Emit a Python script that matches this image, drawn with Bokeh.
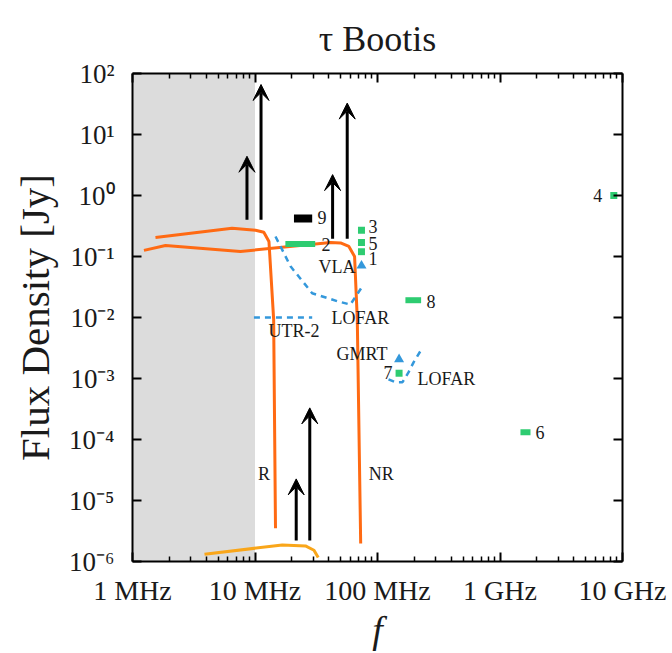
import numpy as np
from bokeh.plotting import figure
from bokeh.models import (LogAxis, BoxAnnotation, Arrow, VeeHead, ColumnDataSource,
                          CustomJSTickFormatter, FixedTicker)
from bokeh.core.properties import value
from bokeh.embed import file_html
from bokeh.resources import INLINE

# ---------------- data (frequency in MHz, flux density in Jy) ----------------
x_ticks = [1, 10, 100, 1000, 10000]
x_tick_labels = ["1 MHz", "10 MHz", "100 MHz", "1 GHz", "10 GHz"]
y_ticks = [1e-6, 1e-5, 1e-4, 1e-3, 1e-2, 1e-1, 1e0, 1e1, 1e2]
y_tick_labels = ["10⁻⁶", "10⁻⁵", "10⁻⁴", "10⁻³", "10⁻²", "10⁻¹", "10⁰", "10¹", "10²"]

shade_f = [1, 10]

r_f = [1.54, 6.5, 10.1, 11.8, 13.0, 14.2, 14.7]
r_s = [0.205, 0.29, 0.27, 0.25, 0.176, 0.0093, 3.5e-6]
nr_f = [1.24, 1.86, 7.6, 41.5, 49.9, 58.4, 65.0, 68.4, 72.9]
nr_s = [0.126, 0.151, 0.121, 0.17, 0.167, 0.146, 0.10, 0.0093, 1.97e-6]
low_f = [3.87, 16.7, 25.8, 30.3, 32.8]
low_s = [1.32e-6, 1.86e-6, 1.8e-6, 1.53e-6, 1.16e-6]

utr2_f = [9.8, 29.3]
utr2_s = [0.01, 0.01]
lba_f = [14.7, 19.5, 29.3, 47.0, 60.0, 75.0]
lba_s = [0.213, 0.069, 0.025, 0.0185, 0.0163, 0.032]
hba_f = [123, 140, 160, 179, 197, 233]
hba_s = [0.00097, 0.00087, 0.00087, 0.00126, 0.00184, 0.0032]

tri_f = [74, 150]
tri_s = [0.0707, 0.00206]

arrow_f = [8.6, 11.2, 43.0, 56.6, 21.7, 28.0]
arrow_lo = [0.4, 0.4, 0.195, 0.195, 2.2e-6, 2.2e-6]
arrow_hi = [4.4, 66.0, 2.2, 32.7, 2.26e-5, 3.3e-4]

bar_f0 = [17.7, 169, 1469]
bar_f1 = [31.0, 227, 1774]
bar_s = [0.16, 0.0192, 1.31e-4]
black_f0 = [20.8]
black_f1 = [29.3]
black_s = [0.42]

sq_f = [74, 74, 74, 150, 8490]
sq_s = [0.27, 0.17, 0.12, 0.00122, 1.0]

left_text = ["9", "2", "3", "5", "1", "8", "6", "LOFAR", "UTR-2", "LOFAR", "R", "NR"]
left_f = [32.4, 34.9, 84.4, 84.4, 84.4, 251, 1950, 42.1, 12.9, 212, 10.6, 85]
left_s = [0.429, 0.1556, 0.31, 0.166, 0.092, 0.0182, 1.28e-4, 0.01, 0.006, 0.00097, 2.7e-5, 2.7e-5]
right_text = ["4", "7", "VLA", "GMRT"]
right_f = [6830, 132.5, 66.1, 120.7]
right_s = [1.0, 0.00125, 0.0673, 0.00249]

# ---------------- styles ----------------
SERIF = "Liberation Serif"
ORANGE = "#ff6a13"
GOLD = "#f9a61a"
BLUE = "#3498db"
GREEN = "#2ecc71"
TXT = "#1a1a1a"

p = figure(width=672, height=653, x_axis_type="log", y_axis_type="log",
           x_range=(1, 10000), y_range=(1e-6, 1e2),
           output_backend="svg", toolbar_location=None,
           min_border_left=132, min_border_right=50, min_border_top=73, min_border_bottom=90,
           title="τ Bootis")
p.title.text_font = SERIF
p.title.text_font_size = "36px"
p.title.text_font_style = "normal"
p.title.align = "center"
p.title.vertical_align = "top"
p.title.text_color = TXT
p.title.standoff = 26
p.grid.visible = False
p.outline_line_color = None
p.background_fill_color = "white"
p.border_fill_color = "white"

minor_x = [m * 10 ** k for k in range(4) for m in range(2, 10)]
xt = FixedTicker(ticks=x_ticks, minor_ticks=minor_x)
yt = FixedTicker(ticks=y_ticks, minor_ticks=[])

JS = """
const i = tv.findIndex(t => Math.abs(Math.log10(t) - Math.log10(tick)) < 1e-6);
return i >= 0 ? lab[i] : "";
"""
fmt_x = CustomJSTickFormatter(args=dict(tv=x_ticks, lab=x_tick_labels), code=JS)
fmt_y = CustomJSTickFormatter(args=dict(tv=y_ticks, lab=y_tick_labels), code=JS)

def style_axis(ax, show_labels, size="27px"):
    ax.axis_line_width = 2
    ax.axis_line_color = "black"
    ax.major_tick_in = 9
    ax.major_tick_out = 0
    ax.minor_tick_in = 5
    ax.minor_tick_out = 0
    ax.major_tick_line_width = 2
    ax.minor_tick_line_width = 1.5
    ax.major_tick_line_color = "black"
    ax.minor_tick_line_color = "black"
    ax.major_label_text_font = SERIF
    ax.major_label_text_font_size = size if show_labels else "1px"
    ax.major_label_text_color = TXT
    if not show_labels:
        ax.major_label_text_alpha = 0

xa = p.xaxis[0]
xa.ticker = xt
xa.formatter = fmt_x
style_axis(xa, True, "28px")
xa.major_label_standoff = 13
xa.axis_label = "f"
xa.axis_label_text_font = SERIF
xa.axis_label_text_font_style = "italic"
xa.axis_label_text_font_size = "38px"
xa.axis_label_text_color = TXT
xa.axis_label_standoff = 0

ya = p.yaxis[0]
ya.ticker = yt
ya.formatter = fmt_y
style_axis(ya, True, "27px")
ya.major_label_standoff = 18
ya.axis_label = "Flux Density [Jy]"
ya.axis_label_text_font = SERIF
ya.axis_label_text_font_style = "normal"
ya.axis_label_text_font_size = "41px"
ya.axis_label_text_color = TXT
ya.axis_label_standoff = 8

top = LogAxis(ticker=FixedTicker(ticks=x_ticks, minor_ticks=minor_x))
style_axis(top, False)
top.major_label_standoff = 0
p.add_layout(top, "above")
right = LogAxis(ticker=FixedTicker(ticks=y_ticks, minor_ticks=[]))
style_axis(right, False)
right.major_label_standoff = 0
p.add_layout(right, "right")

p.add_layout(BoxAnnotation(left=shade_f[0], right=shade_f[1], fill_color="#dcdcdc",
                           fill_alpha=1, line_color=None, level="underlay"))

# curves
p.line(r_f, r_s, line_color=ORANGE, line_width=3)
p.line(nr_f, nr_s, line_color=ORANGE, line_width=3)
p.line(low_f, low_s, line_color=GOLD, line_width=3)
for fx, sy in [(utr2_f, utr2_s), (lba_f, lba_s), (hba_f, hba_s)]:
    p.line(fx, sy, line_color=BLUE, line_width=2.5, line_dash="6 5")

# arrows
asrc = ColumnDataSource(dict(f=arrow_f, lo=arrow_lo, hi=arrow_hi))
p.add_layout(Arrow(end=VeeHead(size=16, fill_color="black", line_color="black", line_width=1),
                   x_start="f", y_start="lo", x_end="f", y_end="hi", source=asrc,
                   line_color="black", line_width=3))

# bars and markers
p.segment(x0=bar_f0, y0=bar_s, x1=bar_f1, y1=bar_s, line_color=GREEN, line_width=6)
p.segment(x0=black_f0, y0=black_s, x1=black_f1, y1=black_s, line_color="black", line_width=8)
p.scatter(sq_f, sq_s, marker="square", size=7, fill_color=GREEN, line_color=None)
p.scatter(tri_f, tri_s, marker="triangle", size=10, fill_color=BLUE, line_color=None)

# labels
p.text(left_f, left_s, text=left_text, text_font=value(SERIF), text_font_size="18px",
       text_align="left", text_baseline="middle", text_color=TXT)
p.text(right_f, right_s, text=right_text, text_font=value(SERIF), text_font_size="18px",
       text_align="right", text_baseline="middle", text_color=TXT)

open("out.html", "w").write(file_html(p, INLINE))
